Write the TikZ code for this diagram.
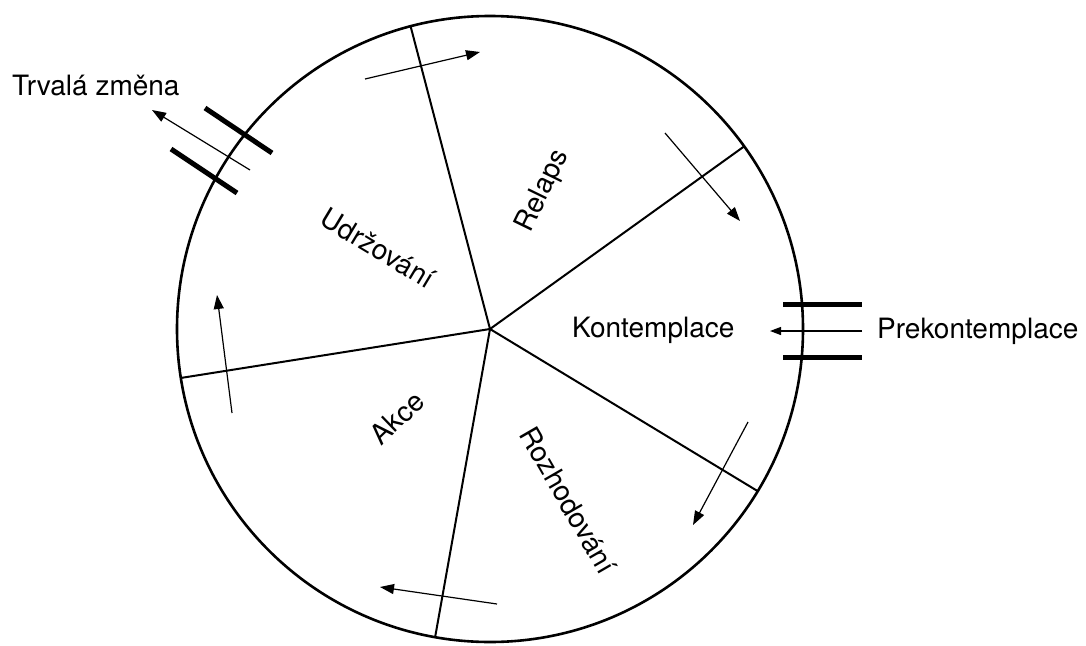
\documentclass[tikz,border=0pt]{standalone}
\usepackage{fontspec}
\setmainfont{TeX Gyre Heros}
\usetikzlibrary{calc,arrows.meta}
\begin{document}
\begin{tikzpicture}[x=1pt,y=-1pt,
  lab/.style={inner sep=0pt,font=\fontsize{28}{31}\selectfont},
  rim/.style={line width=2.6pt},
  spoke/.style={line width=2pt},
  flow/.style={line width=1.2pt,-{Triangle[length=14pt,width=10pt]}},
  bar/.style={line width=5pt}]
\useasboundingbox (0,0) rectangle (1086,645);
\coordinate (c) at (490,329);
\draw[rim] (c) circle (313pt);
\coordinate (s1) at ($(c)+(104.7:313pt)$);
\coordinate (s2) at ($(c)+(35.7:313pt)$);
\coordinate (s3) at ($(c)+(-31.2:313pt)$);
\coordinate (s4) at ($(c)+(259.9:313pt)$);
\coordinate (s5) at ($(c)+(189:313pt)$);
\foreach \s in {s1,s2,s3,s4,s5} \draw[spoke] (c) -- (\s);
% cycle arrows
\coordinate (a1s) at (365,79);  \coordinate (a1e) at (480,52);
\coordinate (a2s) at (665,133); \coordinate (a2e) at (740,221);
\coordinate (a3s) at (748,422); \coordinate (a3e) at (693,525);
\coordinate (a4s) at (497,604); \coordinate (a4e) at (380,587);
\coordinate (a5s) at (232,413); \coordinate (a5e) at (217,295);
\foreach \i in {1,...,5} \draw[flow] (a\i s) -- (a\i e);
% exit: Trvala zmena
\coordinate (ts) at (250,170); \coordinate (te) at (152,110);
\draw[flow] (ts) -- (te);
\coordinate (b1s) at (205,108); \coordinate (b1e) at (272,153);
\coordinate (b2s) at (171,149); \coordinate (b2e) at (237,193);
\draw[bar] (b1s) -- (b1e);
\draw[bar] (b2s) -- (b2e);
% entry: Prekontemplace
\coordinate (ps) at (862,331); \coordinate (pe) at (770,331);
\draw[flow,-{Triangle[length=11pt,width=8pt]}] (ps) -- (pe);
\coordinate (b3s) at (783,304); \coordinate (b3e) at (862,304);
\coordinate (b4s) at (783,357); \coordinate (b4e) at (862,357);
\draw[bar] (b3s) -- (b3e);
\draw[bar] (b4s) -- (b4e);
% labels
\node[lab,anchor=base west] (trv) at (12,95) {Trvalá změna};
\node[lab,anchor=base west] (pre) at (877,338) {Prekontemplace};
\node[lab,anchor=base west] (kon) at (572,337) {Kontemplace};
\node[lab,rotate=64] (rel) at (543,191) {Relaps};
\node[lab,rotate=-31] (udr) at (378,248) {Udržování};
\node[lab,rotate=44] (akc) at (397,418) {Akce};
\node[lab,rotate=-60] (roz) at (568,500) {Rozhodování};
\end{tikzpicture}
\end{document}
